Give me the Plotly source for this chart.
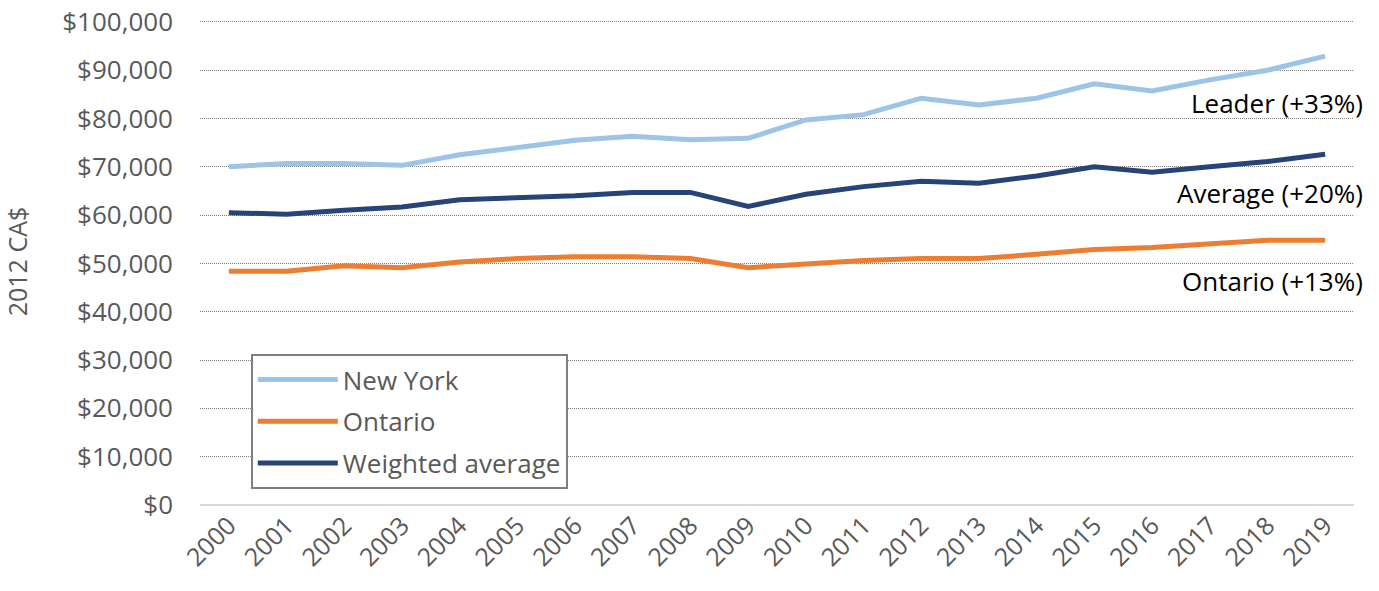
import plotly.graph_objects as go

years = [str(y) for y in range(2000, 2020)]
new_york = [70000, 70700, 70700, 70300, 72500, 74000, 75500, 76300, 75600, 75900,
            79700, 80800, 84200, 82800, 84200, 87200, 85700, 88000, 90000, 92900]
ontario = [48400, 48400, 49500, 49100, 50300, 51000, 51400, 51400, 51000, 49100,
           49900, 50600, 51000, 51000, 51900, 52900, 53300, 54000, 54800, 54800]
weighted_avg = [60500, 60200, 61000, 61700, 63200, 63600, 64000, 64700, 64700, 61800,
                64300, 65900, 67000, 66600, 68100, 70000, 68900, 70000, 71100, 72600]
y_ticks = list(range(0, 100001, 10000))
y_tick_labels = ["$0"] + [f"${v:,}" for v in y_ticks[1:]]
end_labels = ["Leader (+33%)", "Average (+20%)", "Ontario (+13%)"]
end_label_y = [83300, 64500, 46300]

FONT = "Open Sans, Lato, sans-serif"
GREY = "#595959"

fig = go.Figure()
series = [("New York", new_york, "#9dc3e6"),
          ("Ontario", ontario, "#ed7d31"),
          ("Weighted average", weighted_avg, "#264478")]
for i, (name, vals, col) in enumerate(series):
    fig.add_trace(go.Scatter(x=years, y=vals, mode="lines", name=name,
                             line=dict(color=col, width=5),
                             legendgroup=f"g{i}"))

for txt, yv in zip(end_labels, end_label_y):
    fig.add_annotation(x=1.0095, xref="paper", y=yv, yref="y", text=txt,
                       showarrow=False, xanchor="right", yanchor="middle",
                       font=dict(family=FONT, size=26, color="#000000"))

fig.update_layout(
    width=1379, height=591,
    margin=dict(l=200, r=25, t=18, b=86, autoexpand=False),
    plot_bgcolor="white", paper_bgcolor="white",
    font=dict(family=FONT, size=26, color=GREY),
    showlegend=True,
    legend=dict(x=0.044, y=0.31, xanchor="left", yanchor="top",
                bordercolor="#7f7f7f", borderwidth=2, bgcolor="white",
                font=dict(family=FONT, size=26, color=GREY),
                traceorder="grouped", tracegroupgap=5, itemwidth=80),
    xaxis=dict(type="category", range=[-0.5, 19.5], tickangle=-45,
               showgrid=False, showline=False, ticks="", automargin=False,
               tickfont=dict(family=FONT, size=25, color=GREY)),
    yaxis=dict(range=[0, 100800], tickvals=y_ticks, ticktext=y_tick_labels,
               showgrid=True, gridcolor="#7f7f7f", griddash="1px,1px", gridwidth=1,
               zeroline=True, zerolinecolor="#d9d9d9", zerolinewidth=2,
               showline=False, ticks="", automargin=False, ticklabelstandoff=26,
               ticklabeloverflow="allow",
               title=dict(text="2012 CA$", font=dict(family=FONT, size=25, color=GREY), standoff=41),
               tickfont=dict(family=FONT, size=26, color=GREY)),
)

fig.write_html("out.html", config={"displayModeBar": False},
               post_script="document.body.style.margin='0';")
